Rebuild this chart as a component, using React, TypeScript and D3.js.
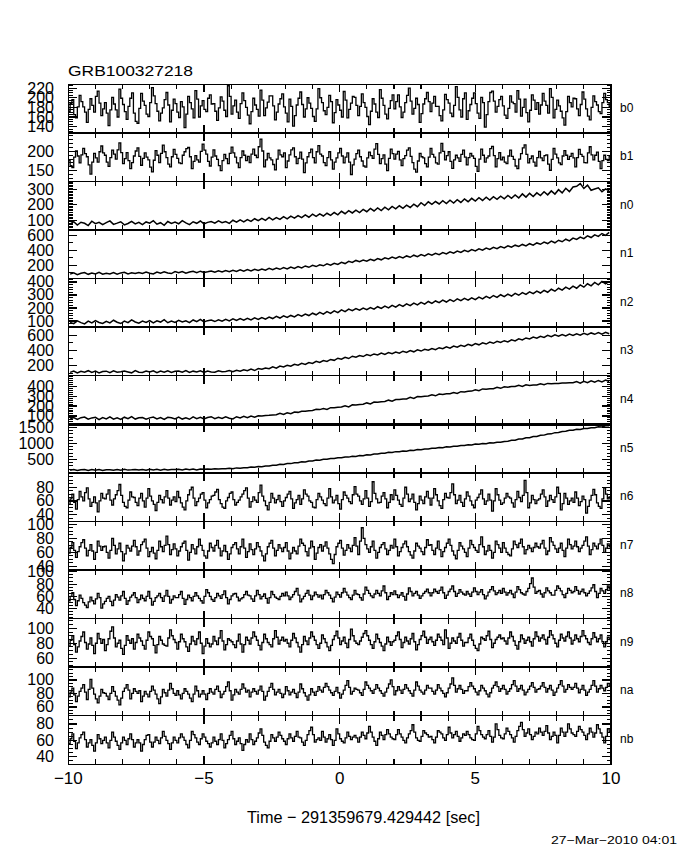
import React from 'react';
import * as d3 from 'd3';

const titleText = 'GRB100327218';
const xAxisTitle = 'Time \u2212 291359679.429442 [sec]';
const dateText = '27\u2212Mar\u22122010 04:01';

const detectorNames = ['b0', 'b1', 'n0', 'n1', 'n2', 'n3', 'n4', 'n5', 'n6', 'n7', 'n8', 'n9', 'na', 'nb'];
const timeRange = [-10, 10];
const xLabelTicks = [-10, -5, 0, 5, 10];
const xMinorStep = 1;

const yDomains = [
  [127, 228], [122, 248], [35, 354], [21, 671], [53, 426], [70, 708], [15, 508],
  [80, 1604], [30, 101], [35, 104], [24, 103], [48, 113], [47, 119], [31, 90],
];
const yLabelTicks = [
  [140, 160, 180, 200, 220], [150, 200], [100, 200, 300], [200, 400, 600], [100, 200, 300, 400],
  [200, 400, 600], [100, 200, 300, 400], [500, 1000, 1500], [40, 60, 80], [40, 60, 80, 100],
  [40, 60, 80, 100], [60, 80, 100], [60, 80, 100], [40, 60, 80],
];
const yMinorSteps = [5, 10, 10, 100, 20, 100, 20, 100, 5, 5, 5, 5, 5, 5];

const b0Counts = [
  172,188,196,165,158,181,205,192,181,170,149,176,198,184,170,203,214,189,163,177,
  190,168,142,175,201,187,175,160,218,199,186,171,155,182,199,210,168,151,147,178,
  209,193,184,166,161,190,221,204,188,172,152,168,179,196,211,185,150,174,197,188,
  170,159,192,181,138,166,203,190,177,158,215,197,160,183,194,176,171,199,206,187,
  188,172,153,179,202,193,174,161,225,203,166,183,195,170,157,188,210,194,180,164,
  146,171,199,185,176,162,216,195,163,179,191,204,204,183,154,170,187,198,208,181,
  168,150,197,182,141,163,185,199,212,186,160,177,200,189,178,161,151,177,219,200,
  190,173,165,180,205,192,148,169,196,185,174,160,213,195,158,176,189,203,201,184,
  163,182,208,190,180,161,144,172,198,187,170,159,217,199,184,166,156,178,194,206,
  177,192,206,181,159,170,190,205,220,193,166,178,199,186,149,167,187,198,211,192,
  171,189,203,182,182,163,152,175,207,196,189,168,161,184,223,201,175,160,198,210,
  155,173,186,199,210,188,168,157,201,190,139,165,192,211,214,193,170,182,196,203,
  183,164,157,178,204,191,188,170,215,197,162,180,197,169,150,174,206,195,176,190,
  166,185,209,193,184,168,219,201,158,176,195,183,172,158,143,171,203,190,181,199,
  198,177,163,186,212,197,177,162,154,180,204,192,185,171,167,190,209,196,190,182,
];
const b1Counts = [
  176,163,158,185,201,188,170,191,208,194,186,165,141,172,195,183,172,199,214,196,
  190,172,161,184,203,193,180,204,222,197,168,181,197,176,155,171,188,201,209,187,
  164,182,196,185,178,159,147,177,202,190,171,195,216,199,184,167,160,186,205,192,
  182,170,168,190,199,207,210,186,155,174,189,178,172,200,219,203,193,174,162,185,
  204,188,179,163,150,176,192,181,168,195,211,196,185,170,158,184,201,190,176,187,
  171,193,206,190,184,212,232,201,160,178,195,183,178,166,152,180,203,191,186,196,
  158,175,191,204,209,186,168,182,198,180,145,170,186,197,206,184,170,199,215,193,
  188,171,163,184,199,178,154,172,183,196,208,188,170,185,196,172,140,165,180,194,
  203,186,175,162,159,183,198,189,182,206,220,192,168,181,191,167,150,182,206,194,
  180,193,200,178,163,181,189,203,209,187,171,154,146,175,195,186,183,168,160,185,
  208,192,185,170,167,196,221,200,178,189,199,174,156,178,190,183,174,192,203,185,
  165,184,195,188,182,161,148,180,206,190,172,183,188,207,213,189,160,181,197,178,
  185,172,168,188,203,187,179,162,155,180,194,209,217,192,170,181,188,172,162,184,
  200,183,176,189,191,167,151,179,208,193,183,170,166,188,202,190,179,187,195,183,
  160,184,205,192,187,171,170,196,212,191,178,190,198,174,155,176,190,179,176,188,
];
const n0Counts = [
  74,90,68,86,79,64,93,77,85,70, 84,95,72,80,89,69,78,92,75,86,
  71,88,80,96,73,83,66,91,78,87, 76,97,82,70,89,79,94,75,85,91,
  80,95,83,91,79,99,86,102,88,104, 92,109,96,112,98,118,101,117,105,123,
  108,126,113,130,116,134,119,139,124,141, 127,145,131,150,135,158,142,162,147,166,
  150,170,155,177,160,180,163,185,168,190, 174,194,177,198,183,205,188,214,196,220,
  203,222,206,228,209,231,212,234,216,239, 221,243,225,247,229,251,232,254,236,257,
  240,262,243,265,246,272,251,276,255,279, 261,286,266,292,271,300,279,309,287,318,
  322,340,308,330,296,304,312,286,305,292,
];
const n1Counts = [
  80,98,74,92,101,78,94,83,104,79, 93,84,101,80,97,106,84,99,88,103,
  89,107,92,84,109,93,111,95,88,114, 98,116,92,109,118,99,120,103,112,123,
  106,124,111,130,113,133,117,138,121,142, 124,146,129,150,133,157,139,162,145,168,
  150,176,157,182,164,190,172,198,182,206, 192,218,200,226,210,238,222,252,236,264,
  248,270,254,280,262,290,272,300,284,308, 290,316,298,324,306,334,314,342,324,352,
  334,360,342,370,350,380,360,388,370,400, 382,410,392,420,402,430,412,440,422,450,
  432,460,440,468,450,478,458,488,468,498, 480,510,490,522,500,534,514,548,526,562,
  544,576,556,592,570,606,586,624,600,640,
];
const n2Counts = [
  90,80,101,88,78,99,85,104,89,82, 98,86,106,91,81,100,88,109,93,84,
  99,89,104,85,101,92,111,87,100,90, 105,93,102,88,108,95,113,93,103,107,
  96,110,99,113,101,117,104,119,107,121, 108,124,112,127,115,131,119,136,123,140,
  127,143,132,149,137,154,142,160,148,166, 153,172,159,178,165,186,172,192,179,196,
  183,200,187,204,191,210,197,214,201,220, 206,226,212,232,218,238,224,244,230,250,
  236,254,241,260,246,264,250,270,256,274, 260,278,264,284,270,290,276,296,282,302,
  288,306,292,312,298,318,304,324,310,330, 315,336,321,344,329,352,337,360,345,368,
  352,378,360,386,370,396,378,404,386,404,
];
const n3Counts = [
  114,132,108,128,117,136,112,130,106,126, 130,110,134,116,122,132,120,108,138,116,
  112,132,118,134,110,130,116,136,114,128, 132,116,138,112,130,118,134,114,132,120,
  116,136,122,126,138,124,142,128,148,136, 156,138,164,154,172,162,186,168,196,186,
  208,194,220,208,232,218,244,232,260,244, 270,258,284,272,300,286,312,296,326,312,
  334,322,348,332,356,342,368,350,374,358, 380,366,392,376,400,384,410,394,418,406,
  428,412,438,424,450,432,460,444,470,454, 482,466,492,476,502,486,512,496,522,506,
  530,514,542,526,554,540,566,552,578,562, 588,574,600,584,608,590,612,594,616,600,
  620,602,626,608,632,614,636,616,640,622,
];
const n4Counts = [
  68,84,64,82,88,66,80,86,62,83, 70,90,67,81,65,87,71,92,68,82,
  84,66,80,89,69,83,64,86,81,70, 88,68,82,66,90,72,85,69,83,92,
  71,86,74,90,76,70,92,80,96,82, 99,86,102,100,104,106,110,112,126,114,
  132,122,140,136,148,148,152,156,168,164, 176,166,184,182,188,190,202,192,212,210,
  216,218,232,222,240,238,244,246,260,250, 266,266,272,272,288,278,296,294,300,302,
  314,304,322,318,324,326,338,328,346,344, 350,352,366,356,374,370,376,376,390,380,
  396,392,398,398,410,400,416,410,414,414, 426,416,430,426,428,430,434,434,436,436,
  448,432,452,438,456,442,460,446,464,450,
];
const n5Counts = [
  160,184,154,180,188,158,182,162,186,156, 180,174,160,184,162,192,166,174,188,168,
  186,162,194,168,190,164,196,172,184,182, 192,170,200,178,204,174,202,192,198,196,
  206,202,212,208,228,206,236,228,240,240, 260,254,278,274,298,296,322,318,348,344,
  374,370,400,396,426,422,454,450,480,478, 506,504,532,528,554,552,578,574,600,596,
  622,620,648,644,672,670,698,696,724,720, 746,742,768,762,790,784,812,806,832,828,
  854,850,874,870,896,890,918,912,940,936, 960,954,984,978,1002,996,1022,1014,1042,1038,
  1066,1070,1104,1106,1140,1144,1180,1182,1218,1224, 1260,1264,1300,1304,1342,1344,1380,1384,1416,1416,
  1446,1444,1472,1470,1498,1496,1524,1522,1556,1558,
];
const n6Counts = [
  55,63,70,58,48,62,74,66,60,72,79,63,52,58,66,57,44,60,71,64,
  63,70,76,61,54,63,69,75,84,68,58,52,50,61,73,66,65,58,53,64,
  71,60,51,64,78,67,60,55,46,58,68,62,57,66,75,64,54,61,66,59,
  74,65,57,51,47,60,69,76,80,64,53,59,64,70,72,61,50,57,62,67,
  68,73,77,62,56,51,49,60,65,71,73,62,54,58,61,66,70,75,79,64,
  51,59,66,61,58,72,83,67,60,53,47,58,71,64,57,62,68,59,52,60,
  65,70,74,63,49,57,62,68,55,63,76,70,67,60,58,51,50,62,71,66,
  61,56,53,64,78,66,57,61,68,56,48,62,73,68,64,59,56,69,81,70,
  67,60,55,63,75,64,52,59,88,71,63,57,58,67,72,63,50,58,69,62,
  76,68,61,55,52,64,80,70,59,63,70,58,47,56,67,61,56,66,74,64,
  54,64,78,69,60,53,49,62,71,65,64,72,85,69,56,61,68,58,52,63,
  73,67,60,54,50,61,65,70,76,63,55,60,70,61,45,60,78,69,61,55,
  57,64,71,66,64,57,51,62,74,65,59,68,90,72,50,57,68,62,56,61,
  63,70,76,66,52,60,68,62,58,66,80,71,47,56,71,64,55,60,64,58,
  73,64,53,59,67,62,42,52,61,68,77,69,57,52,49,63,79,70,63,66,
];
const n7Counts = [
  59,67,74,63,53,61,68,74,78,66,55,63,71,62,50,60,76,69,63,68,
  69,60,52,63,80,70,58,65,73,61,48,58,70,66,62,69,77,68,56,62,
  71,75,79,66,54,61,67,59,51,63,76,68,61,70,83,71,57,64,72,65,
  55,62,68,73,76,63,49,60,71,65,58,68,79,70,63,55,52,62,73,67,
  62,70,77,66,55,62,70,61,50,58,67,71,74,65,58,68,79,66,53,61,
  72,64,57,65,74,68,62,55,48,58,68,73,77,66,55,63,71,66,61,67,
  74,62,51,59,67,62,58,69,79,73,70,61,55,66,76,68,50,59,67,71,
  62,69,75,66,58,50,44,57,68,73,77,66,56,63,71,66,61,70,81,69,
  57,76,95,80,71,65,60,68,76,63,52,60,67,71,74,65,57,63,70,66,
  79,68,55,61,67,72,76,68,61,56,52,62,73,69,66,61,57,67,78,70,
  71,63,57,66,76,64,54,61,67,73,79,70,62,56,51,63,74,69,65,60,
  54,66,77,71,67,63,60,71,82,68,57,62,70,63,52,60,76,71,66,60,
  74,66,60,57,55,65,76,71,67,73,79,68,58,64,70,66,61,67,73,68,
  66,72,77,66,57,62,81,75,70,65,60,66,73,63,54,66,79,71,65,69,
  76,68,61,66,70,76,82,69,57,64,73,69,65,72,79,70,60,66,72,68,
];
const n8Counts = [
  53,60,66,55,45,53,62,57,50,46,42,51,59,53,48,56,65,58,41,48,
  52,57,60,52,45,54,63,59,54,61,68,57,47,53,59,62,66,58,50,55,
  62,57,53,60,68,57,46,52,58,61,65,58,52,61,70,60,49,55,61,58,
  58,63,68,57,47,55,62,58,53,60,66,61,57,53,49,60,71,66,60,55,
  52,58,65,61,57,63,69,58,48,55,61,64,65,59,53,56,58,63,68,62,
  61,56,52,61,70,63,56,60,64,57,49,58,68,63,59,57,55,60,65,61,
  67,61,55,59,63,68,73,62,51,56,60,65,70,62,55,61,67,63,59,62,
  56,63,70,66,62,57,51,59,67,63,59,66,73,67,62,58,55,62,70,64,
  63,58,54,64,75,70,65,61,58,64,70,65,61,69,77,66,55,60,66,63,
  69,63,58,62,66,60,54,64,74,68,61,65,68,62,57,61,65,68,72,66,
  61,66,72,68,65,70,75,66,57,62,68,72,77,68,60,65,71,67,64,62,
  68,64,60,67,74,68,63,67,71,63,56,61,67,71,76,69,63,66,70,65,
  73,67,62,66,70,64,58,67,76,71,66,64,62,68,73,81,90,75,65,68,
  70,64,59,66,74,69,66,62,62,70,77,73,69,63,58,65,73,70,66,68,
  76,70,64,68,72,66,61,65,69,74,79,68,58,65,73,69,65,71,77,72,
];
const n9Counts = [
  76,84,90,78,68,75,83,89,95,81,72,79,87,77,66,80,93,86,80,85,
  70,78,86,96,102,87,75,80,84,73,65,77,90,84,80,86,72,81,92,87,
  83,77,72,84,95,89,86,77,67,78,89,84,79,77,76,87,98,90,85,81,
  72,82,92,86,82,75,69,79,89,83,78,86,95,80,66,76,86,80,75,79,
  89,83,78,87,97,83,71,78,86,84,82,78,74,83,92,79,68,78,88,84,
  79,87,95,89,84,77,71,81,92,86,81,78,75,86,97,88,79,84,88,83,
  85,80,75,84,93,87,81,75,68,78,89,83,78,87,95,89,84,78,73,80,
  91,86,81,75,70,77,85,90,96,87,78,83,88,80,74,85,99,90,83,80,
  78,83,88,93,97,90,84,78,73,82,92,86,81,76,70,79,88,82,77,82,
  84,90,95,85,74,81,88,83,79,86,93,82,71,78,85,90,96,88,80,85,
  88,82,77,84,92,88,84,78,98,87,73,80,87,83,80,88,93,84,76,81,
  81,87,92,84,77,73,70,79,88,86,84,90,96,85,74,80,85,88,91,86,
  87,83,79,87,95,89,83,77,72,82,91,86,80,84,88,82,76,86,95,89,
  83,87,91,85,79,88,97,91,86,80,75,84,92,87,83,89,95,87,79,84,
  91,86,82,89,97,90,86,81,78,86,94,88,82,86,91,82,75,82,88,85,
];
const naCounts = [
  75,82,88,78,68,76,83,88,93,82,71,86,101,88,79,72,66,76,86,81,
  80,76,71,80,90,83,76,70,63,73,83,88,93,85,72,80,87,83,80,84,
  68,76,83,79,75,83,91,85,79,72,65,75,86,81,76,85,95,87,80,77,
  84,78,72,80,87,83,79,73,68,79,91,84,75,79,84,79,71,80,87,82,
  79,86,91,83,74,79,83,90,97,84,70,78,86,82,79,86,94,88,82,85,
  75,82,87,83,79,85,91,83,70,76,83,89,95,86,78,82,86,80,74,79,
  90,84,78,82,86,80,74,82,94,87,81,76,70,78,87,82,77,83,90,85,
  82,89,95,90,85,81,77,83,89,81,73,79,85,92,99,89,79,83,88,86,
  85,81,77,86,97,92,88,84,80,86,93,88,84,80,76,82,88,94,100,90,
  78,84,90,85,80,86,93,88,84,80,76,85,97,91,85,82,79,85,92,88,
  88,83,79,85,93,88,84,80,75,81,88,94,103,92,82,87,92,86,80,84,
  84,90,96,91,87,82,78,84,92,88,84,79,75,81,88,92,97,90,83,87,
  92,86,79,83,87,93,99,91,83,87,92,85,78,82,86,91,96,89,82,86,
  87,91,96,89,82,87,92,85,77,82,88,93,99,91,82,86,93,89,86,89,
  95,88,81,86,92,85,77,82,86,92,99,91,82,87,92,88,84,89,95,91,
];
const nbCounts = [
  56,62,68,59,50,57,63,67,70,61,52,57,61,54,47,57,67,62,56,60,
  64,57,51,60,70,64,59,54,49,57,64,60,55,62,68,61,52,57,61,57,
  47,55,61,66,67,58,52,58,64,60,56,63,71,65,60,56,49,57,64,60,
  57,63,68,64,60,55,51,60,71,67,63,58,55,62,68,64,59,56,52,57,
  64,59,55,61,68,60,51,56,61,66,71,62,55,59,63,56,48,55,61,58,
  68,61,55,59,63,69,74,66,58,54,51,59,67,63,59,64,70,66,62,59,
  55,62,68,63,59,65,71,64,63,58,54,60,67,72,76,67,58,61,63,60,
  71,64,58,62,67,61,54,60,74,68,62,59,57,63,70,65,61,64,66,63,
  58,64,70,66,62,69,77,70,64,59,54,62,70,66,61,67,73,68,64,62,
  61,67,73,68,64,60,57,63,68,72,79,70,63,60,59,65,72,69,67,64,
  65,61,57,64,72,70,68,63,60,67,76,69,63,67,71,65,59,63,68,66,
  71,67,63,61,60,68,77,72,67,64,62,67,72,65,58,64,80,73,66,63,
  62,68,75,71,67,63,58,65,72,77,82,73,65,69,74,67,61,65,70,68,
  75,70,66,71,78,69,61,65,70,66,57,66,75,70,65,70,80,74,69,67,
  65,71,77,73,70,66,61,68,75,70,64,69,79,74,69,64,57,65,74,70,
];

const seriesList = [b0Counts, b1Counts, n0Counts, n1Counts, n2Counts, n3Counts, n4Counts,
  n5Counts, n6Counts, n7Counts, n8Counts, n9Counts, naCounts, nbCounts];

export default function App() {
  const W = 680, H = 850;
  const left = 68.3, right = 611, top = 84.3, ph = 48.57;
  const font = '"Liberation Sans", Arial, sans-serif';
  const x = d3.scaleLinear().domain(timeRange).range([left, right]);
  const xTicks = d3.range(timeRange[0], timeRange[1] + 0.001, xMinorStep);
  const bottom = top + ph * detectorNames.length;

  return (
    <svg width={W} height={H} style={{ position: 'absolute', left: 0, top: 0, background: '#fff' }}>
      <rect x={0} y={0} width={W} height={H} fill="#fff" />
      <text x={68} y={70.5} dominantBaseline="central" fontFamily={font} fontSize={15} textLength={125} lengthAdjust="spacingAndGlyphs">{titleText}</text>
      {seriesList.map((vals, i) => {
        const t0 = top + i * ph;
        const y = d3.scaleLinear().domain(yDomains[i]).range([t0 + ph, t0]);
        const n = vals.length;
        const dt = (timeRange[1] - timeRange[0]) / n;
        const fine = n > 200;
        const pts = fine ? vals.concat([vals[n - 1]]) : vals;
        const line = d3.line<number>()
          .x((_, j) => x(timeRange[0] + (fine ? j : j + 0.5) * dt))
          .y((d) => y(d))
          .curve(fine ? d3.curveStepAfter : d3.curveLinear);
        const majors = yLabelTicks[i];
        const step = yMinorSteps[i];
        const [d0, d1] = yDomains[i];
        const minors = d3.range(Math.ceil(d0 / step) * step, d1, step).filter((v) => !majors.includes(v));
        const clipId = `clip${i}`;
        return (
          <g key={i}>
            <clipPath id={clipId}>
              <rect x={left} y={t0} width={right - left} height={ph} />
            </clipPath>
            <path d={line(pts) || ''} fill="none" stroke="#000" strokeWidth={fine ? 1.3 : 1.5} clipPath={`url(#${clipId})`} />
            <rect x={left} y={t0} width={right - left} height={ph} fill="none" stroke="#000" strokeWidth={1.3} shapeRendering="crispEdges" />
            {xTicks.map((t) => {
              const big = xLabelTicks.includes(t);
              const len = big ? 8 : 5;
              return (
                <g key={t}>
                  <line x1={x(t)} x2={x(t)} y1={t0} y2={t0 + len} stroke="#000" strokeWidth={1.2} shapeRendering="crispEdges" />
                  <line x1={x(t)} x2={x(t)} y1={t0 + ph} y2={t0 + ph - len} stroke="#000" strokeWidth={1.2} shapeRendering="crispEdges" />
                </g>
              );
            })}
            {majors.map((v) => (
              <g key={'M' + v}>
                <line x1={left} x2={left + 9} y1={y(v)} y2={y(v)} stroke="#000" strokeWidth={1.2} shapeRendering="crispEdges" />
                <line x1={right} x2={right - 9} y1={y(v)} y2={y(v)} stroke="#000" strokeWidth={1.2} shapeRendering="crispEdges" />
                <text x={54} y={y(v)} textAnchor="end" dominantBaseline="central" fontFamily={font} fontSize={16}>{v}</text>
              </g>
            ))}
            {minors.map((v) => (
              <g key={'m' + v}>
                <line x1={left} x2={left + 4.5} y1={y(v)} y2={y(v)} stroke="#000" strokeWidth={1} shapeRendering="crispEdges" />
                <line x1={right} x2={right - 4.5} y1={y(v)} y2={y(v)} stroke="#000" strokeWidth={1} shapeRendering="crispEdges" />
              </g>
            ))}
            <text x={620} y={t0 + ph / 2 - 1} dominantBaseline="central" fontFamily={font} fontSize={12}>{detectorNames[i]}</text>
          </g>
        );
      })}
      <line x1={left} x2={right} y1={top + 7 * ph} y2={top + 7 * ph} stroke="#000" strokeWidth={2.6} shapeRendering="crispEdges" />
      {xLabelTicks.map((t) => (
        <text key={t} x={x(t)} y={778} textAnchor="middle" dominantBaseline="central" fontFamily={font} fontSize={17}>
          {t < 0 ? '\u2212' + Math.abs(t) : String(t)}
        </text>
      ))}
      <text x={247} y={817} dominantBaseline="central" fontFamily={font} fontSize={17} textLength={233} lengthAdjust="spacingAndGlyphs">{xAxisTitle}</text>
      <text x={677} y={840} textAnchor="end" dominantBaseline="central" fontFamily={font} fontSize={11} textLength={126} lengthAdjust="spacingAndGlyphs">{dateText}</text>
      <line x1={left} x2={right} y1={bottom} y2={bottom} stroke="#000" strokeWidth={1.3} shapeRendering="crispEdges" />
    </svg>
  );
}
